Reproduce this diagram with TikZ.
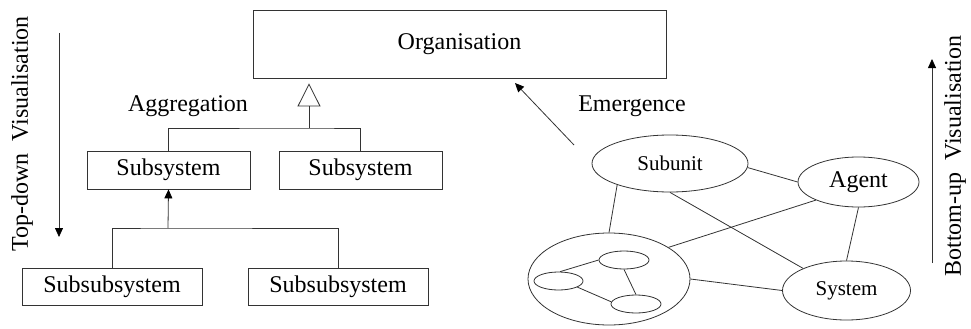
\documentclass[tikz,border=0pt]{standalone}
\usepackage{fontspec}
\setmainfont{Liberation Serif}
\usetikzlibrary{arrows.meta,shapes.geometric}
\begin{document}
\begin{tikzpicture}[x=1pt,y=-1pt,
  line/.style={draw=black!80,line width=0.8pt},
  box/.style={line,rectangle,inner sep=0pt,font=\fontsize{24}{28}\selectfont},
  blob/.style={line,ellipse,inner sep=0pt},
  lbl/.style={inner sep=0pt,font=\fontsize{24}{28}\selectfont},
  solidtip/.style={-{Triangle[length=9pt,width=8pt,color=black]}},
  opentip/.style={-{Triangle[open,length=23pt,width=23pt]}}]
\useasboundingbox (0,0) rectangle (971,329);

% hierarchy (aggregation)
\node[box,minimum width=413pt,minimum height=68pt] (org) at (459.5,44) {Organisation};
\node[box,minimum width=163pt,minimum height=38pt] (sub1) at (168.5,170) {Subsystem};
\node[box,minimum width=163pt,minimum height=38pt] (sub2) at (360.5,170) {Subsystem};
\node[box,minimum width=180pt,minimum height=37pt] (ss1) at (112,286.5) {Subsubsystem};
\node[box,minimum width=180pt,minimum height=37pt] (ss2) at (338,286.5) {Subsubsystem};

\coordinate (j1) at (309,128);
\coordinate (j2) at (168,228);
\draw[line] (sub1.north) |- (j1) -| (sub2.north);
\draw[line,opentip,shorten >=5pt] (j1) -- (j1 |- org.south);
\draw[line] (ss1.north) |- (j2) -| (ss2.north);
\draw[line,solidtip] (j2) -- (sub1.south);

\node[lbl] (agg) at (188,106) {Aggregation};

% emergent network
\node[blob,minimum width=156pt,minimum height=57pt,font=\fontsize{21}{24}\selectfont] (su) at (670,163.5) {Subunit};
\node[blob,minimum width=121pt,minimum height=50pt,font=\fontsize{24}{28}\selectfont] (ag) at (858.5,182) {Agent};
\node[blob,minimum width=128pt,minimum height=59pt,font=\fontsize{21}{24}\selectfont] (sy) at (846.5,290.5) {System};
\node[blob,minimum width=162pt,minimum height=92pt] (big) at (609,279) {};
\node[blob,minimum width=50pt,minimum height=18pt] (n1) at (624,260) {};
\node[blob,minimum width=49pt,minimum height=18pt] (n2) at (558.5,281) {};
\node[blob,minimum width=50pt,minimum height=18pt] (n3) at (636,304) {};

\draw[line] (su.-3) -- (ag.west);
\draw[line] (su.202) -- (big.north);
\draw[line] (su.south) -- (sy.153);
\draw[line] (ag.203) -- (big.28.5);
\draw[line] (ag.south) -- (sy.north);
\draw[line] (big.east) -- (sy.west);
\draw[line] (n2.80) -- (n1.west);
\draw[line] (n1.south) -- (n3.north);
\draw[line] (n2.-18) -- (n3.175);

\coordinate (emA) at (574,145);
\coordinate (emB) at (515,83);
\draw[line,solidtip] (emA) -- (emB);
\node[lbl] (emg) at (632,106) {Emergence};

% viewing directions
\node[lbl,rotate=90] (td) at (22,134) {Top-down\ \ Visualisation};
\coordinate (tdA) at (59,33);
\coordinate (tdB) at (59,237);
\draw[line,solidtip] (tdA) -- (tdB);

\node[lbl,rotate=90] (bu) at (955,156) {Bottom-up\ \ Visualisation};
\coordinate (buA) at (932,263);
\coordinate (buB) at (932,59);
\draw[line,solidtip] (buA) -- (buB);
\end{tikzpicture}
\end{document}
